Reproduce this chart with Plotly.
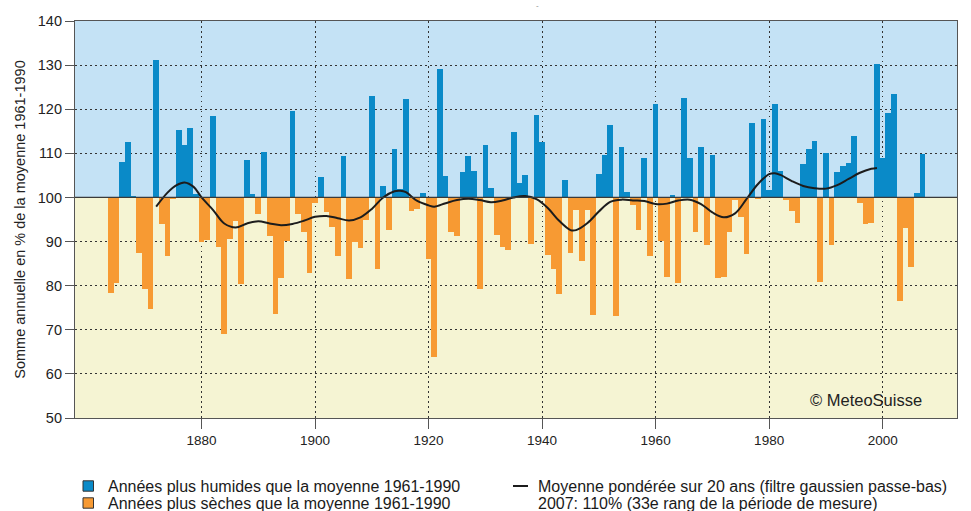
import plotly.graph_objects as go

# ---------------- data ----------------
years = list(range(1864, 2008))
precip_pct = [
    78.4, 80.7, 108.1, 112.5, 100.3, 87.5, 79.2, 74.7, 131.1, 93.9,      # 1864-1873
    86.7, 99.6, 115.2, 111.8, 115.8, 100.8, 90.0, 90.4, 118.4, 88.7,     # 1874-1883
    69.1, 90.6, 94.7, 80.3, 108.4, 100.8, 96.2, 110.2, 91.2, 73.6,       # 1884-1893
    81.8, 90.2, 119.5, 96.2, 92.2, 82.8, 98.8, 104.6, 96.8, 93.2,        # 1894-1903
    86.8, 109.3, 81.4, 89.8, 88.5, 95.0, 123.1, 83.8, 102.6, 92.6,       # 1904-1913
    110.9, 102.0, 122.4, 96.9, 97.3, 101.1, 86.0, 63.8, 129.2, 104.9,    # 1914-1923
    92.1, 91.2, 105.7, 109.4, 106.0, 79.2, 112.0, 102.2, 91.5, 88.8,     # 1924-1933
    88.1, 114.9, 103.3, 105.2, 89.4, 118.6, 112.5, 86.9, 83.8, 78.0,     # 1934-1943
    103.9, 87.3, 97.1, 85.7, 97.1, 73.4, 105.4, 109.6, 116.5, 73.1,      # 1944-1953
    111.5, 101.3, 98.4, 92.6, 109.0, 86.8, 121.1, 90.2, 81.9, 100.5,     # 1954-1963
    80.7, 122.6, 109.0, 92.1, 111.5, 89.2, 109.7, 81.7, 81.9, 92.1,      # 1964-1973
    99.5, 95.6, 87.1, 116.8, 99.8, 117.7, 101.7, 121.1, 106.0, 99.4,     # 1974-1983
    96.9, 94.3, 107.5, 110.9, 112.8, 80.9, 110.1, 89.2, 105.7, 107.2,    # 1984-1993
    107.8, 114.0, 98.8, 94.0, 94.3, 130.3, 109.0, 119.2, 123.4, 76.6,    # 1994-2003
    93.1, 84.3, 100.9, 109.8,                                            # 2004-2007
]

smooth_years = [1872, 1874, 1875.6, 1877, 1878.6, 1880, 1882, 1884, 1886, 1888,
                1890, 1892, 1894, 1896, 1898, 1900, 1902, 1904, 1906, 1908,
                1910, 1912, 1914, 1915, 1916, 1918, 1920, 1921, 1923, 1925,
                1927, 1929, 1931, 1933, 1935, 1937, 1939, 1941, 1943, 1945,
                1946, 1948, 1950, 1952, 1954, 1956, 1958, 1960, 1962, 1964,
                1966, 1968, 1970, 1972, 1974, 1976, 1978, 1980, 1981, 1982,
                1984, 1986, 1988, 1990, 1992, 1994, 1996, 1998, 1999]
smooth_pct = [97.9, 101.1, 102.8, 103.4, 102.4, 100.0, 97.2, 94.1, 93.2, 94.1,
              94.6, 94.1, 93.7, 94.0, 94.7, 95.6, 95.8, 95.3, 94.8, 95.5,
              97.4, 100.0, 101.4, 101.5, 101.2, 99.2, 98.2, 97.9, 98.7, 99.4,
              99.7, 99.4, 98.9, 99.3, 100.0, 100.3, 99.6, 97.6, 94.7, 92.6,
              92.6, 94.2, 96.8, 99.0, 99.5, 99.3, 99.2, 98.5, 98.6, 99.3,
              99.5, 98.5, 96.6, 95.5, 96.4, 99.6, 103.0, 105.3, 105.5, 105.1,
              103.7, 102.6, 102.1, 102.0, 102.8, 104.2, 105.6, 106.5, 106.7]

x_ticks = [1880, 1900, 1920, 1940, 1960, 1980, 2000]
y_ticks = [50, 60, 70, 80, 90, 100, 110, 120, 130, 140]

legend_labels = ["Années plus humides que la moyenne 1961-1990",
                 "Années plus sèches que la moyenne 1961-1990",
                 "Moyenne pondérée sur 20 ans (filtre gaussien passe-bas)",
                 "2007: 110% (33e rang de la période de mesure)"]

# ---------------- styles ----------------
BLUE = "#0a8ac8"
ORANGE = "#f79a33"
BG_BLUE = "#c4e2f5"
BG_YELLOW = "#f5f4d3"
FONT = "Liberation Sans, Arial, Helvetica, sans-serif"
GRID_DASH = "1.5px,3.5px"

wet = [v - 100 if v >= 100 else None for v in precip_pct]
dry = [v - 100 if v < 100 else None for v in precip_pct]

fig = go.Figure()
fig.add_trace(go.Bar(x=years, y=wet, base=100, width=1, marker=dict(color=BLUE, line=dict(width=0)),
                     name=legend_labels[0], showlegend=False))
fig.add_trace(go.Bar(x=years, y=dry, base=100, width=1, marker=dict(color=ORANGE, line=dict(width=0)),
                     name=legend_labels[1], showlegend=False))
fig.add_trace(go.Scatter(x=smooth_years, y=smooth_pct, mode="lines",
                         line=dict(color="#1c1c1c", width=2, shape="spline", smoothing=1.0),
                         name=legend_labels[2], showlegend=False))

L, R, T, B = 75, 14, 21, 93
W, H = 971, 511
PW, PH = W - L - R, H - T - B


def px(X):
    return (X - L) / PW


def py(Y):
    return (H - B - Y) / PH


shapes = [
    dict(type="rect", xref="paper", yref="y", x0=0, x1=1, y0=100, y1=140,
         fillcolor=BG_BLUE, line=dict(width=0), layer="below"),
    dict(type="line", xref="paper", yref="y", x0=0, x1=1, y0=100, y1=100,
         line=dict(color="#3a3a3a", width=1.2), layer="above"),
]

row1, row2 = 486, 503
for yy, col in [(row1, BLUE), (row2, ORANGE)]:
    shapes.append(dict(type="rect", xref="paper", yref="paper",
                       x0=px(83), x1=px(93.5), y0=py(yy + 5.2), y1=py(yy - 5.2),
                       fillcolor=col, line=dict(color="#333333", width=1)))
shapes.append(dict(type="line", xref="paper", yref="paper",
                   x0=px(513), x1=px(528), y0=py(row1), y1=py(row1),
                   line=dict(color="#1c1c1c", width=2)))

LEG_FONT = dict(size=16, color="#1a1a1a", family=FONT)
annotations = [
    dict(text=legend_labels[0], x=px(106), y=py(row1), xref="paper", yref="paper",
         xanchor="left", yanchor="middle", showarrow=False, font=LEG_FONT),
    dict(text=legend_labels[1], x=px(106), y=py(row2), xref="paper", yref="paper",
         xanchor="left", yanchor="middle", showarrow=False, font=LEG_FONT),
    dict(text=legend_labels[2], x=px(536), y=py(row1), xref="paper", yref="paper",
         xanchor="left", yanchor="middle", showarrow=False, font=LEG_FONT),
    dict(text=legend_labels[3], x=px(536), y=py(row2), xref="paper", yref="paper",
         xanchor="left", yanchor="middle", showarrow=False, font=LEG_FONT),
    dict(text="© MeteoSuisse", x=px(866), y=py(400), xref="paper", yref="paper",
         xanchor="center", yanchor="middle", showarrow=False,
         font=dict(size=16.5, color="#222222", family=FONT)),
    dict(text="-", x=px(537), y=py(6), xref="paper", yref="paper",
         xanchor="center", yanchor="middle", showarrow=False,
         font=dict(size=8, color="#888888", family=FONT)),
]

fig.update_layout(
    width=W, height=H, autosize=False,
    margin=dict(l=L, r=R, t=T, b=B, pad=0, autoexpand=False),
    paper_bgcolor="white", plot_bgcolor=BG_YELLOW,
    barmode="overlay", bargap=0,
    font=dict(family=FONT, color="#222222"),
    shapes=shapes, annotations=annotations,
    showlegend=False,
    xaxis=dict(range=[1857.7, 2013.1], tickvals=x_ticks, ticktext=[str(t) for t in x_ticks],
               ticks="outside", ticklen=10, tickcolor="#555555", tickwidth=1.2,
               showgrid=True, gridcolor="#333333", griddash=GRID_DASH, gridwidth=1,
               showline=True, linecolor="#555555", linewidth=1.2, mirror=True,
               zeroline=False, automargin=False, tickfont=dict(size=13.5, color="#222222")),
    yaxis=dict(range=[50, 140], tickvals=y_ticks,
               ticks="outside", ticklen=9, tickcolor="#555555", tickwidth=1.2,
               showgrid=True, gridcolor="#333333", griddash=GRID_DASH, gridwidth=1,
               showline=True, linecolor="#555555", linewidth=1.2, mirror=True,
               zeroline=False, automargin=False, tickfont=dict(size=14.5, color="#222222"),
               title=dict(text="Somme annuelle en % de la moyenne 1961-1990",
                          font=dict(size=14.5, color="#222222"), standoff=8)),
)

fig.write_html("out.html", config={"displayModeBar": False},
               post_script="document.body.style.margin='0px';document.body.style.overflow='hidden';")
